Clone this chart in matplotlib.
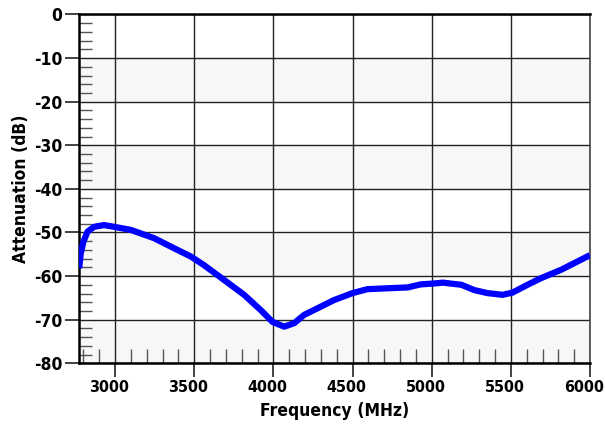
import matplotlib
matplotlib.use("Agg")
import matplotlib.pyplot as plt
import matplotlib.transforms as mtransforms
from matplotlib.ticker import MultipleLocator

plt.rcParams['font.family'] = ['DejaVu Sans']
plt.rcParams['font.stretch'] = 'condensed'

freq = [2773, 2783, 2800, 2826, 2867, 2930, 2994, 3099, 3246, 3394, 3478, 3562,
        3689, 3815, 3920, 3994, 4068, 4131, 4194, 4289, 4383, 4500, 4594, 4720,
        4847, 4931, 5015, 5070, 5188, 5268, 5352, 5447, 5510, 5605, 5689, 5815, 6000]
atten = [-58.2, -54.8, -52.1, -49.8, -48.7, -48.3, -48.7, -49.4, -51.3, -54.0, -55.5, -57.5,
         -60.9, -64.3, -67.8, -70.5, -71.6, -70.8, -68.9, -67.2, -65.5, -63.9, -63.0, -62.8,
         -62.6, -61.9, -61.7, -61.5, -62.0, -63.2, -63.9, -64.3, -63.8, -62.0, -60.5, -58.6, -55.2]

xticks = [3000, 3500, 4000, 4500, 5000, 5500, 6000]
yticks = [0, -10, -20, -30, -40, -50, -60, -70, -80]

fig = plt.figure(figsize=(6.05, 4.25), dpi=100)
ax = fig.add_axes([0.1306, 0.1452, 0.9752 - 0.1306, 0.9659 - 0.1452])

for lo in [-20, -40, -60, -80]:
    ax.axhspan(lo, lo + 10, color='#f7f7f7', zorder=0, lw=0)

ax.plot(freq, atten, color='#0000ff', lw=4.5, solid_capstyle='butt',
        solid_joinstyle='round', zorder=3)

ax.set_xlim(2772, 6000)
ax.set_ylim(-80, 0)
ax.set_xticks(xticks)
ax.set_yticks(yticks)
ax.set_xticklabels([str(v) for v in xticks])
ax.set_yticklabels([str(v) for v in yticks])
ax.xaxis.set_minor_locator(MultipleLocator(100))
ax.yaxis.set_minor_locator(MultipleLocator(2))

ax.grid(True, which='major', color='#222222', lw=1.0, zorder=1)
ax.set_axisbelow(True)

ax.tick_params(axis='both', which='major', direction='out', length=10, width=1.2,
               color='#222222', pad=2)
ax.tick_params(axis='x', which='major', labelsize=11.5)
ax.tick_params(axis='y', which='major', labelsize=12.5)
ax.tick_params(axis='x', which='minor', direction='in', length=10, width=1, color='#555555',
               bottom=True, top=False)
ax.tick_params(axis='y', which='minor', direction='in', length=9, width=1, color='#555555',
               left=True, right=False)

offset = mtransforms.ScaledTranslation(-6 / 100, 0, fig.dpi_scale_trans)
for lab in ax.get_xticklabels():
    lab.set_fontweight('bold')
    lab.set_transform(lab.get_transform() + offset)
for lab in ax.get_yticklabels():
    lab.set_fontweight('bold')

for s in ['left', 'bottom']:
    ax.spines[s].set_linewidth(1.8)
    ax.spines[s].set_color('black')
ax.spines['top'].set_linewidth(1.8)
ax.spines['right'].set_linewidth(1.2)
ax.spines['right'].set_color('#444444')

ax.set_xlabel('Frequency (MHz)', fontsize=12.5, fontweight='bold', labelpad=5)
ax.set_ylabel('Attenuation (dB)', fontsize=12.5, fontweight='bold', labelpad=3)

fig.savefig('out.png', dpi=100)
